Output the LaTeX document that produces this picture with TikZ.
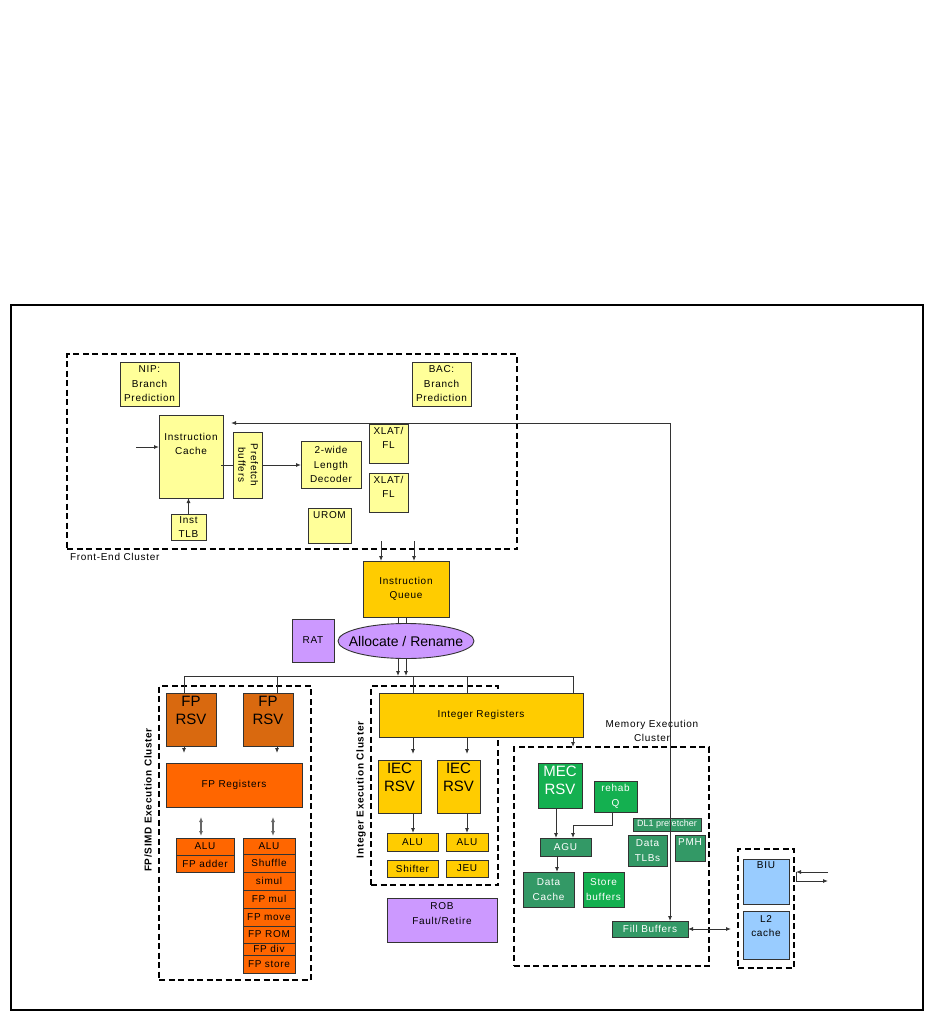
\documentclass[tikz,border=0pt]{standalone}
\usepackage{fontspec}
\setmainfont{Liberation Sans}[LetterSpace=7]
\newfontfamily\plainf{Liberation Sans}
\usetikzlibrary{arrows.meta,shapes.geometric}
\definecolor{ly}{HTML}{FFFF99}
\definecolor{gold}{HTML}{FFCC00}
\definecolor{purp}{HTML}{CC99FF}
\definecolor{dorange}{HTML}{D9690F}
\definecolor{orng}{HTML}{FF6600}
\definecolor{bgreen}{HTML}{14B050}
\definecolor{dgreen}{HTML}{339966}
\definecolor{lblue}{HTML}{99CCFF}
\definecolor{bord}{HTML}{333333}
\newcommand\fs{\fontsize{10}{14.5}\selectfont}
\newcommand\bigfs{\plainf\fontsize{15}{18}\selectfont}
\newcommand\smfs{\plainf\fontsize{9}{11}\selectfont}
\newcommand\mybox[6]{\node[box,#6,anchor=north west,minimum width={#4-#2},minimum height={#5-#3}] (#1) at (#2,#3)}
\tikzset{
  box/.style={draw=bord, line width=0.9pt, inner sep=1pt, outer sep=0pt, align=center, font=\fs, text=black},
  txt/.style={inner sep=0pt, outer sep=0pt, align=center, font=\fs},
  cluster/.style={draw=black, line width=1.8pt, dash pattern=on 6pt off 3.5pt, fill=none},
  wt/.style={text=white},
  arr/.style={draw=bord, line width=0.9pt, -{Latex[length=5pt,width=4pt]}},
  darr/.style={draw=bord, line width=0.9pt, {Latex[length=5pt,width=4pt]}-{Latex[length=5pt,width=4pt]}},
  garr/.style={draw=gray!80!black, line width=1.1pt, {Latex[length=5pt,width=4pt]}-{Latex[length=5pt,width=4pt]}},
  ln/.style={draw=bord, line width=0.9pt}
}
\begin{document}
\begin{tikzpicture}[x=1pt,y=-1pt]
\useasboundingbox (0,0) rectangle (936,1011);
\fill[white] (0,0) rectangle (936,1011);
\draw[line width=1.2pt] (11,305) rectangle (923,1010);

% ---------------- Front-end cluster
\mybox{fe}{67}{354}{517}{549}{cluster}{};
\node[txt, anchor=west] (felbl) at (70,557) {Front-End Cluster};
\mybox{nip}{120}{362}{179}{406}{fill=ly}{NIP:\\Branch\\Prediction};
\mybox{bac}{412}{362}{471}{406}{fill=ly}{BAC:\\Branch\\Prediction};
\mybox{ic}{159}{415}{223}{498}{fill=ly,label={[txt,anchor=north,yshift=-18pt]north:{Instruction\\Cache}}}{};
\mybox{pf}{233}{432}{262}{498}{fill=ly}{\rotatebox{-90}{\begin{tabular}{@{}c@{}}Prefetch\\[-2pt]buffers\end{tabular}}};
\mybox{dec}{301}{441}{361}{488}{fill=ly}{2-wide\\Length\\Decoder};
\mybox{xl1}{369}{424}{408}{463}{fill=ly,label={[txt,anchor=north,yshift=-3pt]north:{XLAT/\\FL}}}{};
\mybox{xl2}{369}{473}{408}{512}{fill=ly,label={[txt,anchor=north,yshift=-3pt]north:{XLAT/\\FL}}}{};
\mybox{urom}{308}{508}{351}{543}{fill=ly,label={[txt,anchor=north,yshift=-4pt]north:{UROM}}}{};
\mybox{tlb}{171}{514}{206}{540}{fill=ly}{Inst\\TLB};

\coordinate (icin) at (136,447);
\draw[arr] (icin) -- (icin -| ic.west);
\draw[arr] (tlb.north) -- (tlb.north |- ic.south);
\draw[ln] ([xshift=-2pt]ic.east |- pf) -- (pf.west);
\draw[arr] (pf.east) -- (dec.west |- pf.east);

% ---------------- Queue / allocate
\mybox{iq}{363}{561}{449}{617}{fill=gold}{Instruction\\Queue};
\mybox{rat}{292}{619}{334}{662}{fill=purp}{RAT};
\node[ellipse, draw=bord, line width=0.9pt, fill=purp, minimum width=136, minimum height=35, inner sep=0pt, font=\plainf\fontsize{14}{16}\selectfont] (alloc) at (406,641) {\makebox[0pt]{Allocate / Rename}};

\coordinate (q1) at (381,541);
\coordinate (q2) at (414,541);
\draw[arr] (q1) -- (q1 |- iq.north);
\draw[arr] (q2) -- (q2 |- iq.north);
\draw[ln] ([xshift=-8pt]iq.south) -- ([xshift=-8pt]iq.south |- alloc.north);
\draw[ln] (iq.south) -- (iq.south |- alloc.north);

% bus
\coordinate (busL) at (184,676);
\coordinate (d2) at (277,676);
\coordinate (d3) at (413,676);
\coordinate (d4) at (467,676);
\coordinate (busR) at (573,676);
\draw[ln] (busL) -- (busR);
\draw[arr] ([xshift=-8pt]alloc.south) -- ([xshift=-8pt]alloc.south |- busL);
\draw[arr] (alloc.south) -- (alloc.south |- busL);

% ---------------- FP cluster
\mybox{fpc}{159}{686}{311}{980}{cluster}{};
\node[txt, font=\fs\bfseries, rotate=90] (fplbl) at (148,800) {FP/SIMD Execution Cluster};
\mybox{fpr1}{166}{693}{216}{746}{fill=dorange,label={[txt,font=\bigfs,anchor=north,yshift=-3.5pt]north:{FP\\RSV}}}{};
\mybox{fpr2}{243}{693}{293}{746}{fill=dorange,label={[txt,font=\bigfs,anchor=north,yshift=-3.5pt]north:{FP\\RSV}}}{};
\mybox{fpreg}{166}{763}{302}{807}{fill=orng}{FP Registers};
\mybox{fa1}{176}{838}{234}{855}{fill=orng}{ALU};
\mybox{fa2}{176}{855}{234}{872}{fill=orng}{FP adder};
\mybox{r1}{243}{838}{295}{854}{fill=orng}{ALU};
\mybox{r2}{243}{854}{295}{872}{fill=orng}{Shuffle};
\mybox{r3}{243}{872}{295}{890}{fill=orng}{simul};
\mybox{r4}{243}{890}{295}{908}{fill=orng}{FP mul};
\mybox{r5}{243}{908}{295}{926}{fill=orng}{FP move};
\mybox{r6}{243}{926}{295}{943}{fill=orng}{FP ROM};
\mybox{r7}{243}{943}{295}{955}{fill=orng}{FP div};
\mybox{r8}{243}{955}{295}{973}{fill=orng}{FP store};

\draw[ln] (busL) -- (busL |- fpr1.north);
\draw[ln] (d2) -- (d2 |- fpr2.north);
\draw[arr, shorten >=10pt] (busL |- fpr1.south) -- (busL |- fpreg.north);
\draw[arr, shorten >=10pt] (d2 |- fpr2.south) -- (d2 |- fpreg.north);
\draw[garr] ([xshift=-4pt,yshift=-10pt]fa1.north |- fpreg.south) -- ([xshift=-4pt,yshift=2pt]fa1.north);
\draw[garr] ([xshift=4pt,yshift=-10pt]r1.north |- fpreg.south) -- ([xshift=4pt,yshift=2pt]r1.north);

% ---------------- Integer cluster
\mybox{intc}{371}{686}{498}{885}{cluster}{};
\node[txt, font=\fs\bfseries, rotate=90] (intlbl) at (361,790) {Integer Execution Cluster};
\mybox{ireg}{379}{693}{583}{737}{fill=gold}{Integer Registers};
\mybox{iec1}{378}{760}{421}{813}{fill=gold,label={[txt,font=\bigfs,anchor=north,yshift=-3.5pt]north:{IEC\\RSV}}}{};
\mybox{iec2}{437}{760}{480}{813}{fill=gold,label={[txt,font=\bigfs,anchor=north,yshift=-3.5pt]north:{IEC\\RSV}}}{};
\mybox{ialu1}{387}{833}{438}{851}{fill=gold}{ALU};
\mybox{ialu2}{446}{833}{488}{851}{fill=gold}{ALU};
\mybox{shft}{387}{860}{438}{877}{fill=gold}{Shifter};
\mybox{jeu}{446}{860}{488}{877}{fill=gold}{JEU};
\mybox{rob}{387}{898}{497}{942}{fill=purp,label={[txt,anchor=north,yshift=-5pt]north:{ROB\\Fault/Retire}}}{};

\draw[ln] (d3) -- (d3 |- ireg.north);
\draw[ln] (d4) -- (d4 |- ireg.north);
\draw[ln] (busR) -- (busR |- ireg.north);
\draw[arr, shorten >=6pt] (d3 |- ireg.south) -- (d3 |- iec1.north);
\draw[arr, shorten >=6pt] (d4 |- ireg.south) -- (d4 |- iec2.north);
\draw[arr] (d3 |- iec1.south) -- (d3 |- ialu1.north);
\draw[arr] (d4 |- iec2.south) -- (d4 |- ialu2.north);

% ---------------- Memory cluster
\mybox{memc}{514}{747}{709}{966}{cluster}{};
\node[txt] (memlbl) at (652,731) {Memory Execution\\Cluster};
\mybox{mec}{538}{763}{582}{808}{fill=bgreen,label={[txt,wt,font=\bigfs,anchor=north,yshift=-3.5pt]north:{MEC\\RSV}}}{};
\mybox{rehab}{594}{781}{637}{812}{fill=bgreen,wt}{rehab\\Q};
\mybox{dl1}{633}{818}{701}{831}{fill=dgreen,wt,font=\smfs}{DL1 prefetcher};
\mybox{dtlb}{628}{835}{667}{866}{fill=dgreen,wt}{Data\\TLBs};
\mybox{pmh}{675}{835}{705}{861}{fill=dgreen,label={[txt,wt,anchor=north,yshift=-4pt]north:{PMH}}}{};
\mybox{agu}{540}{838}{591}{856}{fill=dgreen,wt}{AGU};
\mybox{dc}{523}{872}{574}{907}{fill=dgreen,wt}{Data\\Cache};
\mybox{sb}{583}{872}{624}{907}{fill=bgreen,wt}{Store\\buffers};
\mybox{fill}{612}{921}{688}{937}{fill=dgreen,wt}{Fill Buffers};

\draw[arr] (busR |- ireg.south) -- (busR |- memc.north);
\draw[arr] ([xshift=-4pt]mec.south) -- ([xshift=-4pt]mec.south |- agu.north);
\draw[arr] ([xshift=-3.5pt]rehab.south) -- ++(0,13) -| ([xshift=7.5pt]agu.north);
\draw[arr] ([xshift=-8.5pt]agu.south) -- ([xshift=-8.5pt]agu.south |- dc.north);

% feedback line to instruction cache
\coordinate (fbL) at (231,423);
\coordinate (fbC) at (670,423);
\draw[arr] (fbC) -- (fbL);
\draw[arr] (fbC) -- (fbC |- fill.north);

% ---------------- BIU / L2
\mybox{biuc}{738}{849}{794}{968}{cluster}{};
\mybox{biu}{743}{859}{789}{904}{fill=lblue,label={[txt,anchor=north,yshift=-2.5pt]north:{BIU}}}{};
\mybox{l2}{743}{911}{789}{959}{fill=lblue,label={[txt,anchor=north,yshift=-4.5pt]north:{L2\\cache}}}{};

\draw[darr] (fill.east) -- ([xshift=-12pt]l2.west |- fill.east);
\coordinate (ext1) at (828,872);
\coordinate (ext2) at (828,881);
\draw[arr] (ext1) -- ([xshift=2pt]biuc.east |- ext1);
\draw[arr] ([xshift=2pt]biuc.east |- ext1) |- (ext2);
\end{tikzpicture}
\end{document}
